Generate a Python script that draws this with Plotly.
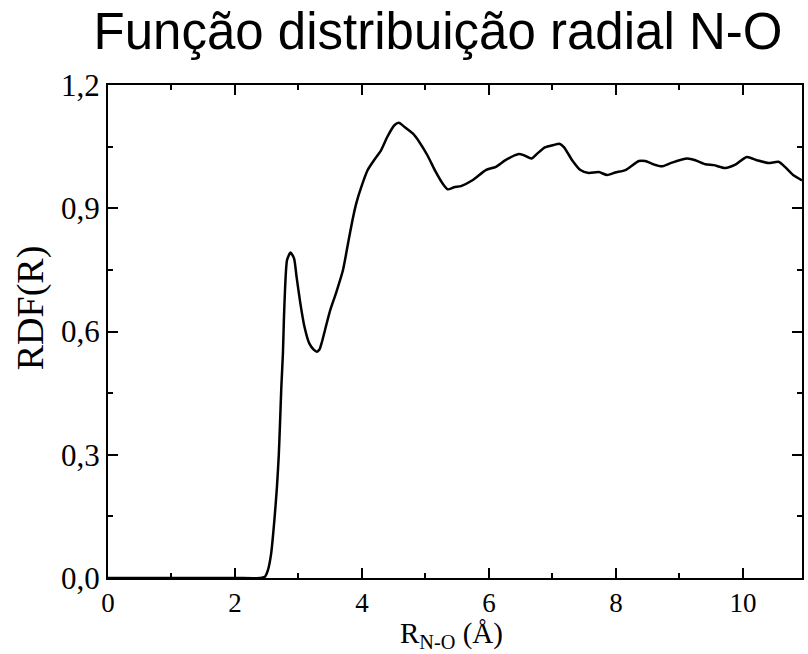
import plotly.graph_objects as go

r_vals = [0, 1.0, 2.0, 2.40, 2.47, 2.52, 2.57, 2.62, 2.66, 2.69, 2.71, 2.73, 2.755, 2.77, 2.79, 2.82,
          2.875, 2.93, 2.97, 3.03, 3.095, 3.17, 3.24, 3.29, 3.33, 3.37, 3.42, 3.50, 3.59, 3.70, 3.78,
          3.85, 3.91, 3.99, 4.09, 4.19, 4.30, 4.40, 4.51, 4.58, 4.67, 4.80, 4.90, 5.03, 5.16, 5.27,
          5.35, 5.45, 5.56, 5.74, 5.95, 6.11, 6.26, 6.47, 6.55, 6.67, 6.76, 6.88, 7.02, 7.11, 7.18,
          7.31, 7.44, 7.57, 7.73, 7.86, 7.99, 8.15, 8.36, 8.46, 8.59, 8.72, 8.88, 9.12, 9.25, 9.41,
          9.54, 9.72, 9.88, 10.06, 10.22, 10.40, 10.56, 10.66, 10.79, 10.93]
rdf_vals = [0, 0, 0, 0, 0.003, 0.02, 0.06, 0.14, 0.22, 0.30, 0.38, 0.465, 0.547, 0.628, 0.709, 0.774,
            0.792, 0.778, 0.733, 0.668, 0.611, 0.571, 0.556, 0.551, 0.556, 0.575, 0.605, 0.652, 0.693,
            0.749, 0.814, 0.871, 0.912, 0.952, 0.993, 1.017, 1.041, 1.074, 1.102, 1.108, 1.098, 1.082,
            1.062, 1.029, 0.989, 0.960, 0.946, 0.951, 0.954, 0.968, 0.993, 1.001, 1.017, 1.032, 1.029,
            1.021, 1.033, 1.048, 1.054, 1.057, 1.049, 1.017, 0.993, 0.986, 0.988, 0.981, 0.987, 0.993,
            1.015, 1.015, 1.007, 1.002, 1.011, 1.021, 1.017, 1.007, 1.005, 0.998, 1.006, 1.025, 1.017,
            1.010, 1.013, 1.001, 0.981, 0.968]

x_ticks = [0, 2, 4, 6, 8, 10]
y_ticks = [0.0, 0.3, 0.6, 0.9, 1.2]

title_text = "Função distribuição radial N-O"
x_title = "R<sub>N-O</sub> (Å)"
y_title = "RDF(R)"

serif = "Liberation Serif, Times New Roman, serif"
sans = "Liberation Sans, Arial, sans-serif"

fig = go.Figure()
fig.add_trace(go.Scatter(x=r_vals, y=rdf_vals, mode="lines",
                         line=dict(color="black", width=2.5, shape="spline", smoothing=0.6),
                         showlegend=False, hoverinfo="skip"))

axis_common = dict(showline=True, linecolor="black", linewidth=2, mirror="allticks",
                   ticks="inside", ticklen=10, tickwidth=2, tickcolor="black",
                   showgrid=False, zeroline=False)

fig.update_xaxes(range=[0, 10.93], tickvals=x_ticks, ticktext=[str(v) for v in x_ticks],
                 tickfont=dict(family=serif, size=27, color="black"),
                 minor=dict(ticks="inside", ticklen=5, tickwidth=2, tickcolor="black", dtick=1, tick0=0),
                 **axis_common)
fig.update_yaxes(range=[0, 1.2], tickvals=y_ticks,
                 ticktext=[f"{v:.1f}".replace(".", ",") for v in y_ticks],
                 tickfont=dict(family=serif, size=31, color="black"),
                 minor=dict(ticks="inside", ticklen=5, tickwidth=2, tickcolor="black", dtick=0.15, tick0=0),
                 **axis_common)

fig.update_layout(
    width=808, height=654,
    margin=dict(l=108, r=4, t=85, b=76),
    paper_bgcolor="white", plot_bgcolor="white",
    title=dict(text=title_text, font=dict(family=sans, size=51, color="black"),
               x=0.4755, xref="paper", xanchor="center",
               y=1 - 31 / 654, yref="container", yanchor="middle"),
)

fig.add_annotation(text=x_title, xref="paper", yref="paper", x=0.495, y=-0.116,
                   xanchor="center", yanchor="middle", showarrow=False,
                   font=dict(family=serif, size=29, color="black"))
fig.add_annotation(text=y_title, xref="paper", yref="paper", x=(30 - 108) / 696,
                   y=(578 - 308) / 493, xanchor="center", yanchor="middle", textangle=-90,
                   showarrow=False, font=dict(family=serif, size=38, color="black"))

fig.write_html("out.html", config={"displayModeBar": False},
               post_script="document.body.style.margin='0';document.body.style.overflow='hidden';")
